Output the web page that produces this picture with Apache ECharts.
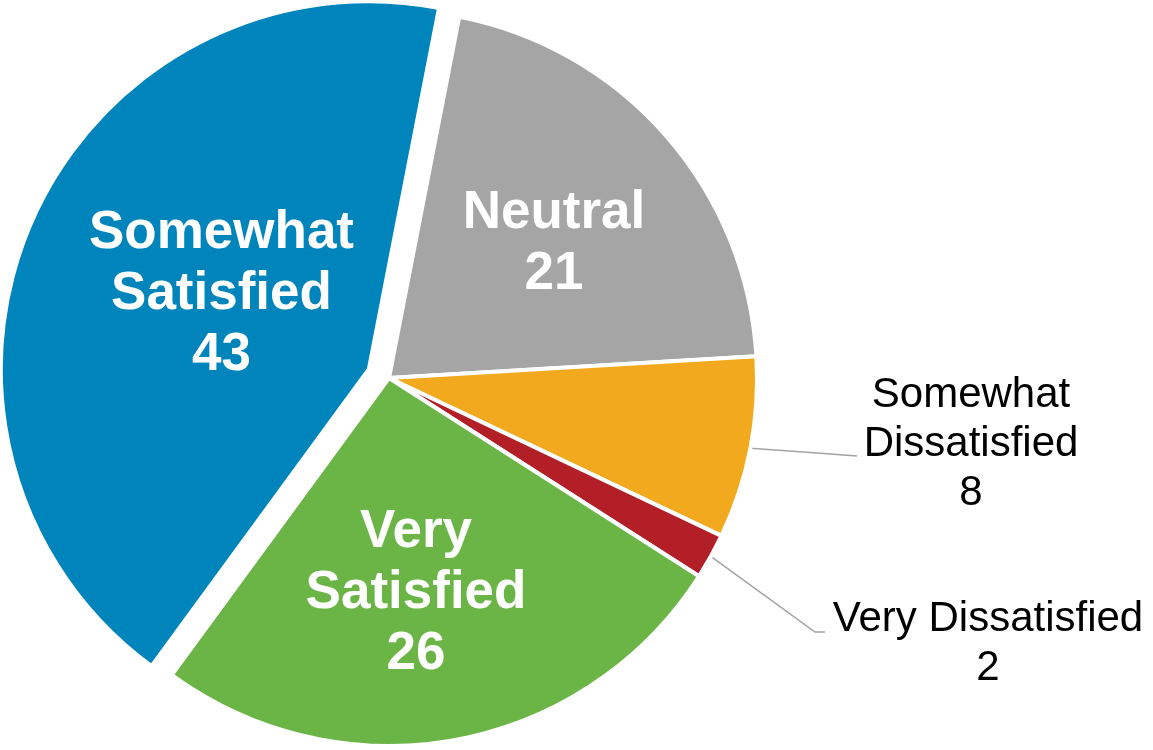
<!DOCTYPE html>
<html>
<head>
<meta charset="utf-8">
<script src="https://cdn.jsdelivr.net/npm/echarts@6/dist/echarts.min.js"></script>
<style>
  html, body { margin: 0; padding: 0; background: #ffffff; }
  #chart { width: 1153px; height: 750px; }
</style>
</head>
<body>
<div id="chart"></div>
<script>
// Survey satisfaction breakdown
const categories = ['Somewhat Satisfied', 'Neutral', 'Somewhat Dissatisfied', 'Very Dissatisfied', 'Very Satisfied'];
const labelText = ['Somewhat\nSatisfied', 'Neutral', 'Somewhat\nDissatisfied', 'Very Dissatisfied', 'Very\nSatisfied'];
const values = [43, 21, 8, 2, 26];
const colors = ['#0084BC', '#A5A5A5', '#F2A91E', '#B21F27', '#6BB547'];
const exploded = [true, false, false, false, false];
const outside = [false, false, true, true, false];

// Where each label sits (pixels) and the bends of the leader lines;
// the pulled-out slice keeps its own inside label, nudged with padding.
const labelPlacement = [
  null,
  { x: 554, y: 244 },
  { x: 971, y: 444, line: [[857, 456]] },
  { x: 988, y: 644, line: [[815, 632], [825, 632]] },
  { x: 416, y: 593 }
];

const insideLabel = {
  show: true,
  position: 'inside',
  color: '#ffffff',
  fontFamily: 'Liberation Sans, Arial, sans-serif',
  fontWeight: 'bold',
  fontSize: 53,
  lineHeight: 61
};
const explodedLabel = Object.assign({}, insideLabel, { padding: [0, 0, 8, 48] });
const outsideLabelStyle = {
  show: true,
  position: 'outside',
  color: '#000000',
  fontFamily: 'Liberation Sans, Arial, sans-serif',
  fontWeight: 'normal',
  fontSize: 42,
  lineHeight: 49
};

const seriesData = categories.map((name, i) => ({
  name: name,
  value: values[i],
  selected: exploded[i],
  itemStyle: { color: colors[i] },
  label: outside[i] ? outsideLabelStyle : (exploded[i] ? explodedLabel : insideLabel),
  labelLine: outside[i]
    ? { show: true, length: 10, length2: 10, lineStyle: { color: '#A3A3A3', width: 1.5 } }
    : { show: false }
}));

const chart = echarts.init(document.getElementById('chart'), null, { renderer: 'canvas' });
chart.setOption({
  animation: false,
  backgroundColor: '#ffffff',
  series: [{
    type: 'pie',
    center: [389, 378],
    radius: 368,
    startAngle: 233.8,
    clockwise: true,
    selectedMode: 'single',
    selectedOffset: 22,
    avoidLabelOverlap: false,
    itemStyle: { borderColor: '#ffffff', borderWidth: 4, borderJoin: 'bevel' },
    emphasis: { disabled: true },
    label: {
      formatter: p => labelText[p.dataIndex] + '\n' + p.value
    },
    labelLayout: function (params) {
      const pos = labelPlacement[params.dataIndex];
      if (!pos) {
        return {};
      }
      const res = { x: pos.x, y: pos.y, align: 'center', verticalAlign: 'middle' };
      if (pos.line && params.labelLinePoints) {
        const start = params.labelLinePoints[0].slice();
        const pts = [start].concat(pos.line.map(q => q.slice()));
        if (pts.length === 2) {
          pts.splice(1, 0, [(start[0] + pts[1][0]) / 2, (start[1] + pts[1][1]) / 2]);
        }
        res.labelLinePoints = pts;
      }
      return res;
    },
    data: seriesData
  }]
});
</script>
</body>
</html>
